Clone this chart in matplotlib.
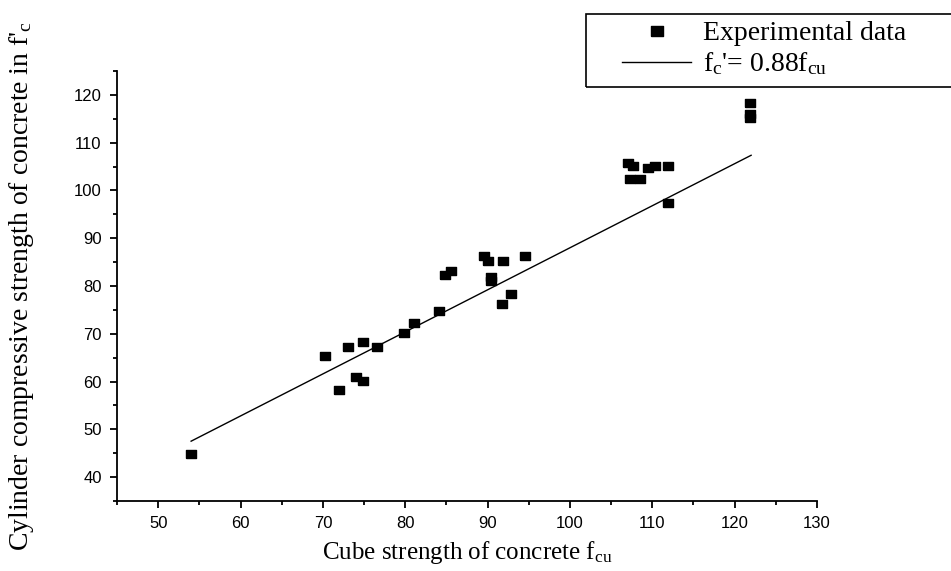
import numpy as np
import matplotlib
matplotlib.use("Agg")
import matplotlib.pyplot as plt
from matplotlib.patches import Rectangle
from matplotlib.ticker import MultipleLocator

# Cube strength f_cu vs cylinder strength f'c
fcu = [54.0, 70.2, 72.0, 73.0, 74.0, 74.9, 74.9, 76.6, 79.8, 81.1, 84.1,
       84.8, 85.6, 89.6, 90.1, 90.4, 90.4, 91.8, 91.9, 92.9, 94.5,
       107.1, 107.3, 107.7, 108.5, 109.5, 110.3, 111.9, 111.9,
       121.9, 121.9, 121.9]
fc = [44.9, 65.3, 58.2, 67.3, 60.9, 68.3, 60.1, 67.3, 70.2, 72.2, 74.8,
      82.3, 83.2, 86.3, 85.2, 81.8, 81.1, 76.2, 85.2, 78.3, 86.3,
      105.7, 102.3, 105.1, 102.3, 104.8, 105.2, 105.2, 97.3,
      118.2, 115.9, 115.2]

# fitted relation f'c = 0.88 f_cu
fit_slope = 0.88
fit_range = [54.0, 122.0]

plt.rcParams['mathtext.fontset'] = 'custom'
plt.rcParams['mathtext.rm'] = 'Liberation Serif'
plt.rcParams['mathtext.it'] = 'Liberation Serif'

W, H = 951, 571
fig = plt.figure(figsize=(W / 100, H / 100), dpi=100)
ax = fig.add_axes([117 / W, 1 - 501 / H, 700 / W, 430 / H])

# slightly wide square marker like the original
rect = [(-1.3, -1), (1.3, -1), (1.3, 1), (-1.3, 1), (-1.3, -1)]
ax.plot(fcu, fc, linestyle='none', marker=rect, markersize=7.5,
        color='black', label='Experimental data')

fit_x = np.array(fit_range)
ax.plot(fit_x, fit_slope * fit_x, color='black', linewidth=1.0,
        label="f$_\\mathrm{c}$'= 0.88f$_\\mathrm{cu}$")

ax.set_xlim(45, 130)
ax.set_ylim(35, 125)
ax.xaxis.set_minor_locator(MultipleLocator(5))
ax.yaxis.set_minor_locator(MultipleLocator(5))
ax.set_xticks(range(50, 131, 10))
ax.set_yticks(range(40, 121, 10))

for s in ['top', 'right']:
    ax.spines[s].set_visible(False)
for s in ['left', 'bottom']:
    ax.spines[s].set_linewidth(1.3)

ax.tick_params(which='major', direction='out', length=5, width=1.3,
               labelsize=12, pad=6)
ax.tick_params(which='minor', direction='out', length=3, width=1.3)
for lab in ax.get_xticklabels() + ax.get_yticklabels():
    lab.set_family('Liberation Sans')

ax.set_xlabel("Cube strength of concrete f$_\\mathrm{cu}$",
              family='Liberation Serif', fontsize=18)
ax.xaxis.set_label_coords(0.5, -(539 - 501) / 430)
ax.set_ylabel("Cylinder compressive strength of concrete in f'$_\\mathrm{c}$",
              family='Liberation Serif', fontsize=20)
ax.yaxis.set_label_coords(-(117 - 36) / 700, 0.5)

# legend frame runs off the right edge like in the original
fig.patches.append(Rectangle((586 / W, 1 - 87 / H), 400 / W, 73 / H,
                             transform=fig.transFigure, fill=False,
                             edgecolor='black', linewidth=1.2))
leg = fig.legend(loc='upper left', bbox_to_anchor=(622 / W, 1 - 21 / H),
                 prop={'family': 'Liberation Serif', 'size': 20},
                 handlelength=2.5, handletextpad=0.4, borderpad=0.0,
                 labelspacing=0.15, frameon=False, borderaxespad=0.0,
                 markerscale=1.2)

fig.savefig('out.png', dpi=100)
